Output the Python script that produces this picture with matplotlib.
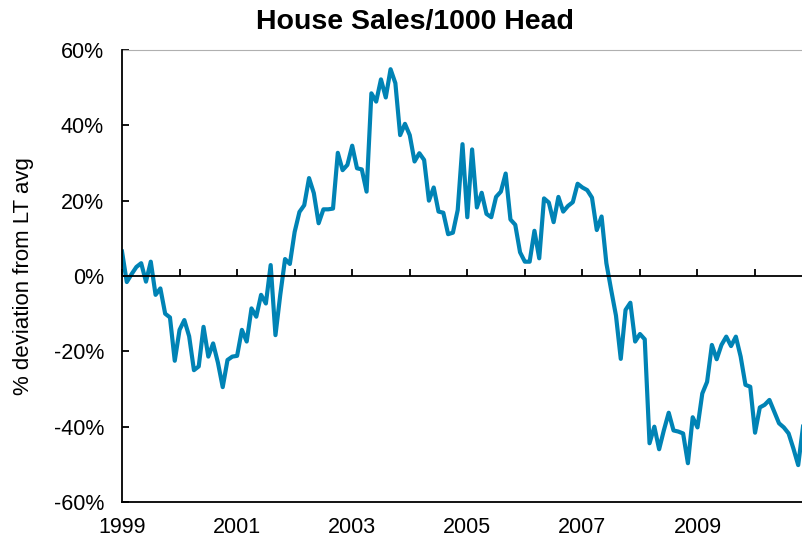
import matplotlib
matplotlib.use("Agg")
import matplotlib.pyplot as plt
import numpy as np

plt.rcParams['font.family'] = ['Liberation Sans', 'DejaVu Sans']

title = "House Sales/1000 Head"
ylabel = "% deviation from LT avg"
start_year = 1999
tick_years = [1999, 2001, 2003, 2005, 2007, 2009]
yticks = [-60, -40, -20, 0, 20, 40, 60]

# monthly values, Jan 1999 .. Nov 2010 (% deviation)
values = [
    6.5, -1.6, 0.5, 2.4, 3.4, -1.5, 3.8, -5.0, -3.3, -10.0, -11.0, -22.5,
    -14.3, -11.7, -16.0, -25.0, -24.0, -13.5, -21.4, -17.9, -23.0, -29.5, -22.3, -21.4,
    -21.2, -14.3, -17.4, -8.6, -10.8, -5.0, -7.3, 2.9, -15.7, -5.0, 4.5, 3.2,
    11.7, 17.0, 18.8, 26.0, 22.0, 14.0, 17.7, 17.7, 17.9, 32.7, 28.1, 29.5,
    34.6, 28.6, 28.3, 22.4, 48.5, 46.3, 52.2, 47.4, 54.9, 51.2, 37.4, 40.4,
    37.4, 30.4, 32.6, 30.8, 20.0, 23.5, 17.1, 16.8, 11.1, 11.5, 17.5, 35.0,
    15.6, 33.6, 18.2, 22.1, 16.5, 15.6, 21.0, 22.4, 27.2, 15.0, 13.6, 6.3,
    3.8, 3.8, 12.0, 4.7, 20.6, 19.5, 14.3, 21.0, 17.1, 18.6, 19.6, 24.5,
    23.5, 22.8, 20.8, 12.2, 15.8, 3.4, -3.7, -10.5, -22.0, -9.0, -7.1, -17.4,
    -15.4, -16.8, -44.4, -40.0, -46.0, -40.9, -36.3, -41.0, -41.3, -41.8, -49.7, -37.5,
    -40.2, -31.2, -28.1, -18.3, -22.1, -18.3, -16.1, -18.6, -16.1, -21.4, -28.9, -29.4,
    -41.6, -34.9, -34.2, -32.9, -36.0, -39.1, -40.2, -41.8, -45.8, -50.2, -40.0,
]

months = np.arange(len(values))
year_pos = [(y - start_year) * 12 for y in range(start_year, 2011)]

fig = plt.figure(figsize=(8.03, 5.42), dpi=100)
ax = fig.add_axes([122/803, 1 - 502/542, 1 - 122/803, (502 - 50)/542])

ax.plot(months, values, color='#0083B5', lw=3.0, solid_joinstyle='round', clip_on=True)

ax.set_xlim(0, 142)
ax.set_ylim(-60, 60)

# y axis
ax.set_yticks(yticks)
ax.set_yticklabels([f"{v}%" for v in yticks])
ax.tick_params(axis='y', direction='in', length=5, width=1.3, labelsize=15.5, pad=13, color='black')

# x axis: labels at bottom, tick marks on the zero line (top spine moved to 0)
ax.spines['top'].set_position(('data', 0))
ax.spines['top'].set_linewidth(1.3)
ax.spines['right'].set_visible(False)
ax.spines['left'].set_linewidth(1.3)
ax.spines['bottom'].set_linewidth(1.3)
ax.set_xticks(year_pos)
ax.set_xticklabels([str(y) if y in tick_years else '' for y in range(start_year, 2011)])
ax.tick_params(axis='x', bottom=False, top=True, labelbottom=True, labeltop=False,
               direction='out', length=5, width=1.3, labelsize=15.5, pad=6)

# light plot-area border at top
ax.axhline(60, color='#b0b0b0', lw=0.8, clip_on=False)

ax.set_ylabel(ylabel, fontsize=16, labelpad=14)
fig.text(415/803, 1 - 22/542, title, ha='center', va='center', fontsize=20.5, fontweight='bold')

fig.savefig('out.png', dpi=100)
